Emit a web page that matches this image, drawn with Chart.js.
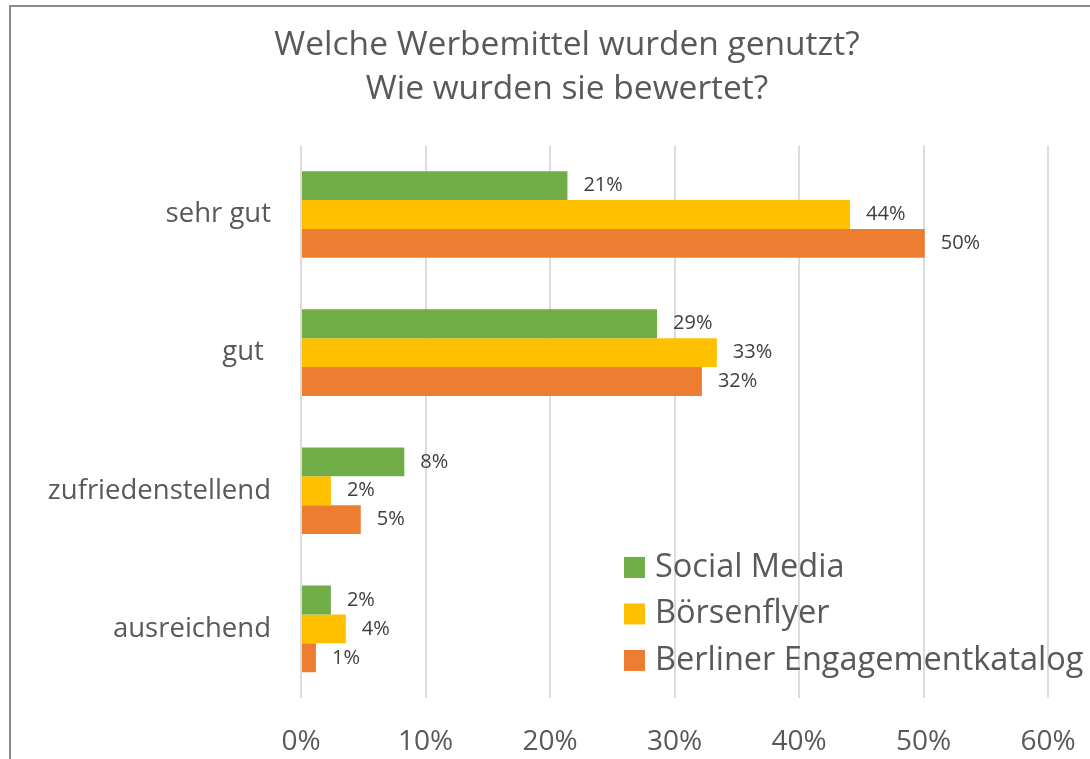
<!DOCTYPE html>
<html>
<head>
<meta charset="utf-8">
<script src="https://cdn.jsdelivr.net/npm/chart.js@4.4.0/dist/chart.umd.min.js"></script>
<style>
html,body{margin:0;padding:0;background:#fff;overflow:hidden}
#wrap{position:relative;width:1090px;height:759px;overflow:hidden}
#frame{position:absolute;left:9px;top:5px;width:1200px;height:900px;border:2px solid #8a8a8a;box-sizing:border-box;pointer-events:none}
</style>
</head>
<body>
<div id="wrap"><canvas id="mycanvas" width="1134" height="759"></canvas><div id="frame"></div></div>
<script>
var categories = ['sehr gut', 'gut ', 'zufriedenstellend', 'ausreichend'];
var socialMedia = [21.4, 28.6, 8.3, 2.4];
var boersenflyer = [44.1, 33.4, 2.4, 3.6];
var engagementkatalog = [50.1, 32.2, 4.8, 1.2];
var seriesNames = ['Social Media', 'Börsenflyer', 'Berliner Engagementkatalog'];
var seriesColors = ['#70AD47', '#FFC000', '#ED7D31'];
var titleLines = ['Welche Werbemittel wurden genutzt?', 'Wie wurden sie bewertet?'];
var axisMax = 60;
var axisStep = 10;

var FONT = "'Open Sans', sans-serif";

// value labels right of each bar
var barLabels = {
    id: 'barLabels',
    afterDatasetsDraw: function(chart) {
        var ctx = chart.ctx;
        ctx.save();
        ctx.font = '20px ' + FONT;
        ctx.fillStyle = '#404040';
        ctx.textAlign = 'left';
        ctx.textBaseline = 'middle';
        chart.data.datasets.forEach(function(ds, d) {
            var meta = chart.getDatasetMeta(d);
            meta.data.forEach(function(bar, i) {
                ctx.fillText(Math.round(ds.data[i]) + '%', bar.x + 16, bar.y);
            });
        });
        ctx.restore();
    }
};

// legend sits inside the plot, lower right
var innerLegend = {
    id: 'innerLegend',
    afterDraw: function(chart) {
        var ctx = chart.ctx;
        var x = chart.chartArea.left + 323;
        var y = chart.chartArea.top + 422;
        ctx.save();
        ctx.font = '32.5px ' + FONT;
        ctx.textAlign = 'left';
        ctx.textBaseline = 'middle';
        chart.data.datasets.forEach(function(ds, d) {
            var cy = y + d * 46.5;
            ctx.fillStyle = ds.backgroundColor;
            ctx.fillRect(x, cy - 10.5, 21, 21);
            ctx.fillStyle = '#595959';
            ctx.fillText(ds.label, x + 31, cy);
        });
        ctx.restore();
    }
};

// title is centred on the whole frame, not on the padded box
var shiftTitle = {
    id: 'shiftTitle',
    afterLayout: function(chart) {
        if (chart.titleBlock) chart.titleBlock.left += 86;
    }
};

var ctx = document.getElementById('mycanvas');
var chart = new Chart(ctx, {
    type: 'bar',
    data: {
        labels: categories,
        datasets: [
            { label: seriesNames[0], data: socialMedia, backgroundColor: seriesColors[0] },
            { label: seriesNames[1], data: boersenflyer, backgroundColor: seriesColors[1] },
            { label: seriesNames[2], data: engagementkatalog, backgroundColor: seriesColors[2] }
        ]
    },
    options: {
        indexAxis: 'y',
        responsive: false,
        animation: false,
        categoryPercentage: 0.627,
        barPercentage: 1.0,
        layout: { padding: { left: 0, right: 86, top: 0, bottom: 0 } },
        plugins: {
            legend: { display: false },
            tooltip: { enabled: false },
            title: {
                display: true,
                text: titleLines,
                color: '#595959',
                font: { family: FONT, size: 33.5, weight: 'normal', lineHeight: 1.32 },
                padding: { top: 23, bottom: 34 }
            }
        },
        scales: {
            x: {
                min: 0,
                max: axisMax,
                ticks: {
                    stepSize: axisStep,
                    color: '#595959',
                    font: { family: FONT, size: 28 },
                    padding: 27,
                    callback: function(v) { return v + '%'; }
                },
                grid: { color: '#dcdcdc', lineWidth: 2, drawTicks: false },
                border: { display: false },
                afterFit: function(scale) { scale.height = 61; }
            },
            y: {
                ticks: {
                    color: '#595959',
                    font: { family: FONT, size: 27.5 },
                    padding: 22
                },
                grid: { display: false },
                border: { display: false },
                afterFit: function(scale) { scale.width = 301; }
            }
        }
    },
    plugins: [barLabels, innerLegend, shiftTitle]
});
</script>
</body>
</html>
